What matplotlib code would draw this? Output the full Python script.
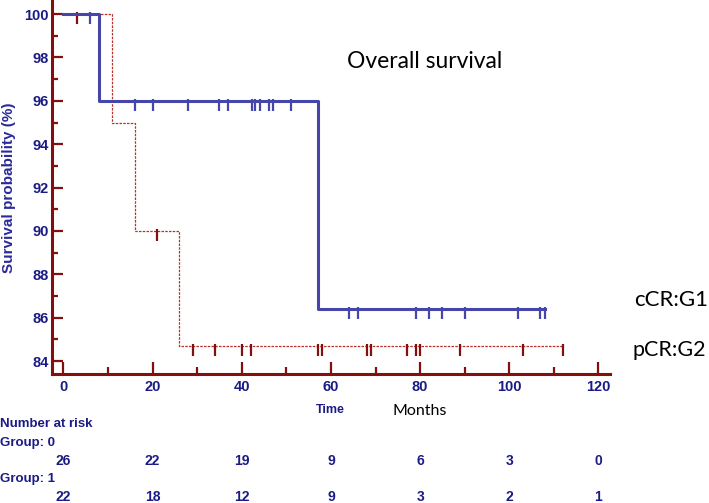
import matplotlib
matplotlib.use("Agg")
import matplotlib.pyplot as plt
from matplotlib.transforms import blended_transform_factory

# Kaplan-Meier steps (time, survival %)
g1_time = [0, 8, 57, 108]
g1_surv = [100, 96, 86.4, 86.4]
g2_time = [0, 11, 16, 26, 112]
g2_surv = [100, 95, 90, 84.7, 84.7]

# censored observations
g1_cens_t = [6, 16, 20, 28, 35, 37, 42.2, 43, 44, 46, 47, 51, 64, 66, 79, 82, 85, 90, 102, 107, 108]
g1_cens_s = [100] + [96] * 11 + [86.4] * 9
g2_cens_t = [3, 21, 29, 34, 40, 42, 57, 58, 68, 69, 77, 79, 80, 89, 103, 112]
g2_cens_s = [100, 90] + [84.7] * 14

risk_times = [0, 20, 40, 60, 80, 100, 120]
risk_g0 = [26, 22, 19, 9, 6, 3, 0]
risk_g1 = [22, 18, 12, 9, 3, 2, 1]

NAVY = "#1b1b85"
DARKRED = "#840f0f"
BLUE = "#4646aa"
RED = "#b8302a"
NARROW = ["Liberation Sans", "DejaVu Sans"]
SOFT = ["Lato", "DejaVu Sans"]

W, H = 709, 503
fig = plt.figure(figsize=(W / 100, H / 100), dpi=100)
x0, x1, ytop, ybot = 52.3, 610, 0, 374.3
ax = fig.add_axes([x0 / W, 1 - ybot / H, (x1 - x0) / W, (ybot - ytop) / H])
ax.set_xlim(-2.5, 122.6)
ax.set_ylim(83.39, 100.65)

ax.step(g1_time, g1_surv, where="post", color=BLUE, lw=2.2, zorder=3)
ax.step(g2_time, g2_surv, where="post", color=RED, lw=0.9, ls=(0, (2, 1)), zorder=2)
ax.plot(g1_cens_t, [s - 0.2 for s in g1_cens_s], ls="none", marker="|", ms=8, mew=1.6, color=BLUE)
ax.plot(g2_cens_t, [s - 0.2 for s in g2_cens_s], ls="none", marker="|", ms=8, mew=1.6, color=DARKRED)

for side in ("top", "right"):
    ax.spines[side].set_visible(False)
for side in ("left", "bottom"):
    ax.spines[side].set_color(DARKRED)
    ax.spines[side].set_linewidth(2.2)

ax.set_xticks(range(0, 121, 20))
ax.set_xticks(range(10, 120, 20), minor=True)
ax.set_yticks(range(84, 101, 2))
ax.set_yticks(range(85, 100, 2), minor=True)
ax.tick_params(which="both", direction="in", color=DARKRED, width=1.6)
ax.tick_params(axis="x", which="major", length=9, pad=4)
ax.tick_params(axis="x", which="minor", length=5)
ax.tick_params(axis="y", which="major", length=8, pad=2.5)
ax.tick_params(axis="y", which="minor", length=4.5)
for lab in ax.get_xticklabels() + ax.get_yticklabels():
    lab.set_family(NARROW)
    lab.set_fontweight("bold")
    lab.set_fontsize(10.5)
    lab.set_color(NAVY)

fig.text(9 / W, 1 - 188 / H, "Survival probability (%)", rotation=90, ha="center", va="center",
         family=NARROW, fontweight="bold", fontsize=11, color="#2a2a9a")
fig.text(330.5 / W, 1 - 410 / H, "Time", ha="center", va="center",
         family=NARROW, fontweight="bold", fontsize=9, color=NAVY)
fig.text(420 / W, 1 - 411 / H, "Months", ha="center", va="center", family=SOFT, fontsize=11.5, color="black")
fig.text(347 / W, 1 - 62 / H, "Overall survival", ha="left", va="center", family=SOFT, fontsize=16.5, color="black")
fig.text(634 / W, 1 - 300 / H, "cCR:G1", ha="left", va="center", family=SOFT, fontsize=16, color="black")
fig.text(632 / W, 1 - 350 / H, "pCR:G2", ha="left", va="center", family=SOFT, fontsize=15.5, color="black")

kw = dict(family=NARROW, fontweight="bold", fontsize=9.5, color=NAVY, va="center")
fig.text(0, 1 - 424 / H, "Number at risk", ha="left", **kw)
fig.text(0, 1 - 443 / H, "Group: 0", ha="left", **kw)
fig.text(0, 1 - 479 / H, "Group: 1", ha="left", **kw)
tr = blended_transform_factory(ax.transData, fig.transFigure)
for t, a, b in zip(risk_times, risk_g0, risk_g1):
    ax.text(t, 1 - 461 / H, str(a), ha="center", transform=tr, clip_on=False, fontsize=10,
            **{k: v for k, v in kw.items() if k != "fontsize"})
    ax.text(t, 1 - 497 / H, str(b), ha="center", transform=tr, clip_on=False, fontsize=10,
            **{k: v for k, v in kw.items() if k != "fontsize"})

fig.savefig("out.png", dpi=100)
